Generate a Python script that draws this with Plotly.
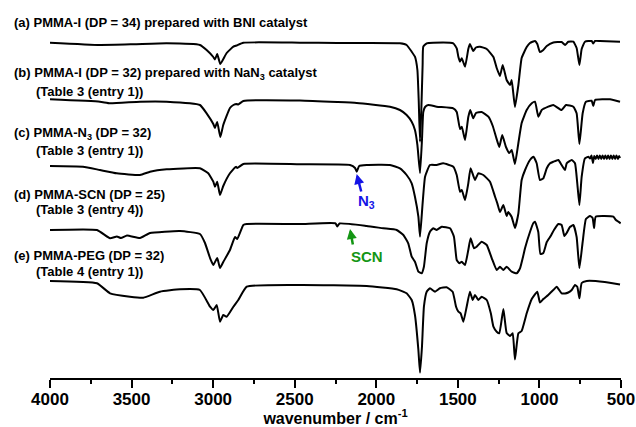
import plotly.graph_objects as go

# ---------------- data (wavenumber / cm-1, stacked transmittance a.u.) ----------------
wn_a = [4000, 3694, 3489, 3285, 3081, 3040, 2999, 2989, 2975, 2956, 2917, 2876, 2856, 2815, 2468, 2239, 2059,
        1855, 1814, 1783, 1763, 1748, 1740, 1732, 1724, 1716, 1712, 1691, 1651, 1528, 1507, 1497, 1487, 1476,
        1456, 1436, 1426, 1406, 1389, 1364, 1323, 1282, 1262, 1242, 1225, 1201, 1180, 1170, 1150, 1129, 1109,
        1078, 1058, 1027, 1013, 997, 976, 955, 915, 864, 843, 823, 792, 772, 755, 741, 721, 680, 670, 659, 629, 506]
t_a = [335.3, 333, 333.7, 334.7, 333, 328, 321, 318.5, 324, 314, 325, 331.3, 332.5, 335.3, 335.3, 335, 335,
       334.7, 333, 326.3, 321.3, 308, 278, 236.3, 268, 313, 331.3, 334.7, 335.3, 334.7, 329.7, 321.3, 316.3, 319.7,
       311.3, 329, 334, 327, 330.5, 331.3, 329, 321, 310, 302, 313, 298, 293, 298, 271, 293, 320,
       331, 335, 337, 334, 326, 328, 332, 335.5, 336, 333, 336.3, 336.3, 330, 313, 329, 336.3, 337, 334.5, 337, 337, 336.3]

wn_b = [4000, 3694, 3632, 3448, 3285, 3081, 3040, 2999, 2989, 2975, 2956, 2938, 2897, 2876, 2856, 2846, 2815, 2468,
        2239, 2120, 1916, 1855, 1814, 1783, 1763, 1748, 1732, 1720, 1712, 1701, 1681, 1630, 1528, 1507, 1487, 1476,
        1456, 1436, 1424, 1406, 1389, 1354, 1313, 1286, 1266, 1246, 1228, 1205, 1185, 1170, 1150, 1129, 1109, 1078,
        1047, 1027, 1007, 986, 946, 915, 864, 837, 792, 772, 755, 735, 715, 680, 670, 659, 567, 506]
t_b = [278.7, 276.3, 274.7, 276.3, 276.3, 273, 264.7, 254, 250, 256, 241, 253, 270, 273, 274, 273.5, 277, 277.5,
       276, 275, 271.3, 268, 263, 256.3, 248, 233, 205, 238, 266, 271, 273, 271.3, 269.7, 266, 249, 251.3,
       238, 261, 268, 259.7, 265, 266, 261.3, 252, 241, 231, 243, 231, 225, 228, 214, 235, 255, 268,
       274.7, 276.3, 261.3, 268, 271.3, 273, 268, 273, 271.3, 264.7, 234, 264.7, 276.3, 277.3, 272, 278, 278.7, 276.3]

wn_c = [4000, 3798, 3694, 3591, 3448, 3387, 3285, 3081, 3030, 2999, 2989, 2975, 2958, 2938, 2897, 2860, 2852, 2815,
        2468, 2161, 2130, 2120, 2105, 2059, 1916, 1855, 1814, 1783, 1763, 1742, 1732, 1716, 1701, 1671, 1630, 1590,
        1528, 1507, 1487, 1476, 1456, 1436, 1422, 1395, 1375, 1344, 1303, 1272, 1258, 1242, 1221, 1201, 1191, 1170,
        1150, 1129, 1109, 1088, 1058, 1037, 1017, 997, 976, 955, 935, 915, 884, 864, 843, 833, 802, 782, 768, 755,
        741, 721, 700, 690, 681, 672, 664, 655, 647, 638, 630, 621, 613, 604, 596, 587, 579, 570, 562, 553, 545,
        536, 528, 519, 511, 506]
t_c = [212, 211.3, 208, 204.7, 203, 206.3, 208.7, 209.7, 204.7, 196.3, 191.3, 196.3, 183, 192, 204.7, 211.3, 210, 214,
       213.7, 213, 210, 206.3, 212, 213, 213, 209.7, 203, 194.7, 181.3, 161.3, 141.3, 174.7, 201.3, 213, 213, 214.7,
       211.3, 203, 186.3, 188, 178, 194.7, 209.7, 198, 204.7, 203, 196.3, 181.3, 174.7, 166, 173, 162, 166, 161,
       150, 164.7, 198, 208, 218, 221.3, 214.7, 198, 199.7, 209.7, 214.7, 216.3, 218, 213, 208, 214.7, 218, 214.7, 194.7, 173,
       201.3, 219.7, 221.3, 219.5, 222.5, 215, 222, 219, 222.5, 219, 222.5, 219, 222.5, 219, 222.5, 219, 222.5, 219, 222.5, 219,
       222.5, 219, 222.5, 219, 222, 220]

wn_d = [4000, 3712, 3632, 3590, 3565, 3528, 3448, 3387, 3203, 3081, 3050, 3019, 2999, 2975, 2958, 2938, 2897, 2866,
        2852, 2815, 2794, 2468, 2250, 2239, 2225, 2059, 1957, 1875, 1834, 1804, 1783, 1763, 1742, 1722, 1708, 1691,
        1671, 1651, 1630, 1599, 1548, 1524, 1507, 1491, 1476, 1456, 1436, 1422, 1401, 1385, 1354, 1323, 1292, 1262,
        1242, 1221, 1201, 1170, 1139, 1119, 1098, 1088, 1058, 1037, 1027, 1007, 994, 976, 955, 931, 911, 884, 864,
        847, 833, 813, 792, 772, 755, 735, 715, 690, 674, 665, 655, 547, 531, 502]
t_d = [148, 148, 139.7, 141.5, 140, 142.5, 140, 145, 147, 144, 135, 120, 113, 120, 110, 116, 128, 141,
       139, 153, 154, 154, 154.7, 151.5, 154.5, 152, 149.7, 148, 143, 134.7, 121.3, 116.3, 106.3, 104.7, 111.3, 134.7,
       146.3, 149.7, 148, 151.3, 149.7, 141.3, 118, 114.7, 116.3, 113, 128, 139.7, 129.7, 131.3, 136.3, 133, 119.7, 108,
       111.3, 108, 111.3, 106.3, 104.7, 109.7, 123, 130, 146, 155, 156.3, 146, 124, 125, 136, 142, 148, 154, 153,
       142, 145, 151, 153, 141, 109.7, 136, 159, 162, 160, 150, 161.3, 161.3, 158, 154.7]

wn_e = [4000, 3712, 3632, 3510, 3428, 3326, 3203, 3081, 3019, 2999, 2978, 2958, 2938, 2917, 2876, 2846, 2794, 2468,
        2059, 1875, 1814, 1783, 1763, 1742, 1732, 1720, 1708, 1691, 1671, 1640, 1610, 1569, 1532, 1511, 1497, 1483,
        1466, 1446, 1426, 1409, 1395, 1375, 1354, 1323, 1298, 1282, 1262, 1246, 1221, 1201, 1180, 1164, 1150, 1129,
        1109, 1078, 1047, 1013, 997, 976, 946, 915, 894, 864, 843, 823, 802, 782, 768, 755, 741, 710, 600, 506]
t_e = [97, 94.7, 84.7, 81.3, 80.3, 86.3, 88.7, 88, 71.3, 68, 73, 56.3, 63, 61.3, 71.3, 78, 91.3, 93,
       92, 88.7, 84.7, 78, 63, 28, 5.3, 31.3, 71.3, 86.3, 89.7, 86.3, 89.7, 90.7, 86.3, 71.3, 66.3, 64.7,
       56.3, 71.3, 86.3, 78, 83, 78, 81.3, 78, 64.7, 51.3, 46.3, 44.7, 69, 45, 42, 44.7, 18.5, 44.7,
       47, 64.7, 79, 86.3, 75.5, 79, 83, 88, 91.3, 84.7, 84.5, 85.5, 88, 93, 91.3, 79.7, 95, 97, 96, 93.5]

series = [(wn_a, t_a), (wn_b, t_b), (wn_c, t_c), (wn_d, t_d), (wn_e, t_e)]

x_ticks = [4000, 3500, 3000, 2500, 2000, 1500, 1000, 500]

labels = [
    ("(a) PMMA-I (DP = 34) prepared with BNI catalyst", 0, 356),
    ("(b) PMMA-I (DP = 32) prepared with NaN<sub>3</sub> catalyst", 0, 305),
    ("(Table 3 (entry 1))", 1, 287),
    ("(c) PMMA-N<sub>3</sub> (DP = 32)", 0, 245),
    ("(Table 3 (entry 1))", 1, 228),
    ("(d) PMMA-SCN (DP = 25)", 0, 184),
    ("(Table 3 (entry 4))", 1, 169),
    ("(e) PMMA-PEG (DP = 32)", 0, 123),
    ("(Table 4 (entry 1))", 1, 107),
]

# ---------------- figure ----------------
fig = go.Figure()
for wn, t in series:
    fig.add_trace(go.Scatter(x=wn, y=t, mode="lines",
                             line=dict(color="black", width=2, shape="spline", smoothing=0.4),
                             showlegend=False, hoverinfo="skip"))

FONT = "Liberation Sans, Arial, sans-serif"
W, L, R = 636, 50, 15
plot_w = W - L - R
for text, indent, y in labels:
    xpx = 12 if indent == 0 else 34
    fig.add_annotation(text="<b>" + text + "</b>", xref="paper", yref="y",
                       x=(xpx - L) / plot_w, y=y, xanchor="left", yanchor="middle",
                       showarrow=False, font=dict(family=FONT, size=13, color="black"))

# marker arrows
BLUE = "rgb(20,20,230)"
GREEN = "rgb(20,150,20)"
fig.add_annotation(x=2120, y=204, ax=2090, ay=185, xref="x", yref="y", axref="x", ayref="y",
                   text="", showarrow=True, arrowhead=2, arrowsize=0.8, arrowwidth=2.5,
                   arrowcolor=BLUE)
fig.add_annotation(x=2060, y=177, xref="x", yref="y", text="<b>N<sub>3</sub></b>", showarrow=False,
                   font=dict(family=FONT, size=15, color=BLUE))
fig.add_annotation(x=2161, y=149, ax=2142, ay=132, xref="x", yref="y", axref="x", ayref="y",
                   text="", showarrow=True, arrowhead=2, arrowsize=0.8, arrowwidth=2.5,
                   arrowcolor=GREEN)
fig.add_annotation(x=2054, y=122, xref="x", yref="y", text="<b>SCN</b>", showarrow=False,
                   font=dict(family=FONT, size=15, color=GREEN))

fig.update_xaxes(range=[4000, 500], tickvals=x_ticks, ticks="outside", ticklen=8, tickwidth=2,
                 tickcolor="black", showline=True, linewidth=2, linecolor="black", showgrid=False,
                 zeroline=False, ticklabelstandoff=-3,
                 tickfont=dict(family=FONT, size=17, color="black", weight="bold"),
                 minor=dict(ticks="outside", ticklen=4, tickwidth=2, tickcolor="black", dtick=250,
                            tick0=500, showgrid=False),
                 title=dict(text="<b>wavenumber / cm<sup>-1</sup></b>", standoff=7,
                            font=dict(family=FONT, size=16, color="black")))
fig.update_yaxes(visible=False, range=[0, 378])
fig.update_layout(width=W, height=427, margin=dict(l=L, r=R, t=0, b=49),
                  plot_bgcolor="white", paper_bgcolor="white")

fig.write_html("out.html")
